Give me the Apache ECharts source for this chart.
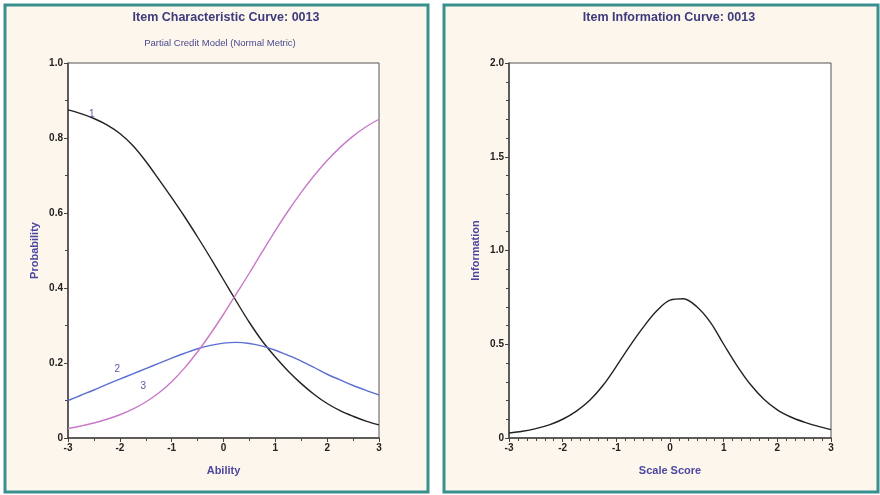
<!DOCTYPE html>
<html>
<head>
<meta charset="utf-8">
<script src="https://cdn.jsdelivr.net/npm/echarts@6/dist/echarts.min.js"></script>
<style>
html, body { margin: 0; padding: 0; background: #fff; }
#chart { width: 880px; height: 495px; }
</style>
</head>
<body>
<div id="chart"></div>
<script>
// ability / scale score points
var theta = [-3, -2.75, -2.5, -2.25, -2, -1.75, -1.5, -1.25, -1, -0.75, -0.5, -0.25, 0,
             0.25, 0.5, 0.75, 1, 1.25, 1.5, 1.75, 2, 2.25, 2.5, 2.75, 3];

// category response curves
var cat1 = [0.875, 0.865, 0.852, 0.835, 0.812, 0.780, 0.738, 0.690, 0.641, 0.590, 0.536, 0.480, 0.422,
            0.364, 0.308, 0.258, 0.216, 0.178, 0.145, 0.116, 0.092, 0.073, 0.058, 0.045, 0.035];
var cat2 = [0.100, 0.114, 0.128, 0.143, 0.157, 0.171, 0.185, 0.199, 0.213, 0.226, 0.238, 0.247, 0.253,
            0.255, 0.252, 0.245, 0.234, 0.220, 0.205, 0.188, 0.170, 0.155, 0.140, 0.127, 0.115];
var cat3 = [0.025, 0.032, 0.040, 0.050, 0.062, 0.077, 0.096, 0.120, 0.150, 0.187, 0.230, 0.278, 0.330,
            0.385, 0.440, 0.497, 0.553, 0.606, 0.655, 0.700, 0.740, 0.775, 0.805, 0.830, 0.850];

// item information
var info = [0.027, 0.036, 0.050, 0.070, 0.100, 0.142, 0.200, 0.280, 0.382, 0.490, 0.590, 0.677, 0.735,
            0.743, 0.700, 0.618, 0.500, 0.385, 0.285, 0.207, 0.150, 0.112, 0.085, 0.063, 0.045];

// curve tags: [text, theta, probability]
var tags = [['1', -2.54, 0.864], ['2', -2.05, 0.184], ['3', -1.55, 0.139]];

var xTicks = [-3, -2, -1, 0, 1, 2, 3];

function pairs(ys) {
    return theta.map(function (t, i) { return [t, ys[i]]; });
}

var navy = '#3d3b7c';
var nameColor = '#4b47a0';
var fontFam = '"Liberation Sans", Arial, sans-serif';

var labelStyle = { color: '#222', fontWeight: 'bold', fontSize: 10, fontFamily: fontFam };

function xAxis(idx, name, minorSplit) {
    return {
        gridIndex: idx, type: 'value',
        min: xTicks[0], max: xTicks[xTicks.length - 1], interval: 1,
        name: name, nameLocation: 'middle', nameGap: 27,
        nameTextStyle: { color: nameColor, fontWeight: 'bold', fontSize: 11, fontFamily: fontFam },
        axisLine: { onZero: false, lineStyle: { color: '#444', width: 1.5 } },
        axisTick: { length: 4, lineStyle: { color: '#444' } },
        minorTick: { show: true, splitNumber: minorSplit, length: 3, lineStyle: { color: '#444' } },
        axisLabel: Object.assign({ margin: 5 }, labelStyle),
        splitLine: { show: false }
    };
}

function yAxis(idx, name, max, interval, minorSplit) {
    return {
        gridIndex: idx, type: 'value', min: 0, max: max, interval: interval,
        name: name, nameLocation: 'middle', nameGap: 28,
        nameTextStyle: { color: nameColor, fontWeight: 'bold', fontSize: 11, fontFamily: fontFam },
        axisLine: { onZero: false, lineStyle: { color: '#444', width: 1.5 } },
        axisTick: { length: 4, lineStyle: { color: '#444' } },
        minorTick: { show: true, splitNumber: minorSplit, length: 3, lineStyle: { color: '#444' } },
        axisLabel: Object.assign({
            margin: 5,
            formatter: function (v) { return v === 0 ? '0' : v.toFixed(1); }
        }, labelStyle),
        splitLine: { show: false }
    };
}

function curve(xi, ys, color, extra) {
    return Object.assign({
        type: 'line', xAxisIndex: xi, yAxisIndex: xi,
        data: pairs(ys), smooth: 0.35, showSymbol: false, silent: true,
        lineStyle: { color: color, width: 1.4 }
    }, extra || {});
}

var chart = echarts.init(document.getElementById('chart'));

var option = {
    backgroundColor: '#fff',
    animation: false,
    graphic: [
        { type: 'rect', z: -10, shape: { x: 5, y: 5, width: 423, height: 487 },
          style: { fill: '#fcf6ec', stroke: '#3a8f8f', lineWidth: 3 } },
        { type: 'rect', z: -10, shape: { x: 444, y: 5, width: 434, height: 487 },
          style: { fill: '#fcf6ec', stroke: '#3a8f8f', lineWidth: 3 } },
        { type: 'text', x: 226, y: 18,
          style: { text: 'Item Characteristic Curve: 0013', textAlign: 'center', textVerticalAlign: 'middle',
                   fill: navy, font: 'bold 12.5px ' + fontFam } },
        { type: 'text', x: 220, y: 43,
          style: { text: 'Partial Credit Model (Normal Metric)', textAlign: 'center', textVerticalAlign: 'middle',
                   fill: '#4a4890', font: '9.5px ' + fontFam } },
        { type: 'text', x: 669, y: 18,
          style: { text: 'Item Information Curve: 0013', textAlign: 'center', textVerticalAlign: 'middle',
                   fill: navy, font: 'bold 12.5px ' + fontFam } }
    ],
    grid: [
        { left: 68, top: 63, width: 311, height: 375, show: true,
          backgroundColor: '#fff', borderColor: '#555', borderWidth: 1 },
        { left: 509, top: 63, width: 322, height: 375, show: true,
          backgroundColor: '#fff', borderColor: '#555', borderWidth: 1 }
    ],
    xAxis: [
        xAxis(0, 'Ability', 2),
        xAxis(1, 'Scale Score', 6)
    ],
    yAxis: [
        yAxis(0, 'Probability', 1, 0.2, 2),
        yAxis(1, 'Information', 2, 0.5, 5)
    ],
    series: [
        curve(0, cat1, '#222', {
            markPoint: {
                symbolSize: 0, silent: true,
                label: { show: true, position: 'inside', color: '#5a58a8', fontSize: 10, fontFamily: fontFam,
                         formatter: function (p) { return p.name; } },
                data: tags.map(function (t) { return { name: t[0], coord: [t[1], t[2]] }; })
            }
        }),
        curve(0, cat2, '#5b6fd0'),
        curve(0, cat3, '#c879c8'),
        curve(1, info, '#222')
    ]
};

chart.setOption(option);
</script>
</body>
</html>
